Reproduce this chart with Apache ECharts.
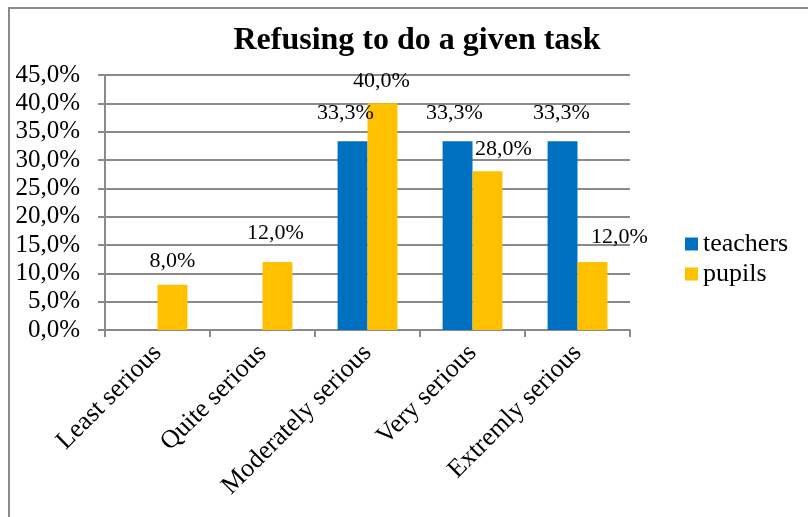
<!DOCTYPE html>
<html>
<head>
<meta charset="utf-8">
<script src="https://cdn.jsdelivr.net/npm/echarts@6/dist/echarts.min.js"></script>
<style>
html,body{margin:0;padding:0;background:#fff;}
#chart{width:808px;height:517px;}
</style>
</head>
<body>
<div id="chart"></div>
<script>
const titleText = 'Refusing to do a given task';
const categories = ['Least serious', 'Quite serious', 'Moderately serious', 'Very serious', 'Extremly serious'];
const seriesNames = ['teachers', 'pupils'];
const teachers = [0, 0, 33.3, 33.3, 33.3];
const pupils = [8.0, 12.0, 40.0, 28.0, 12.0];
const yTicks = [0, 5, 10, 15, 20, 25, 30, 35, 40, 45];

// label placement tweaks (layout only)
const teacherLabelOffsets = [[0,0],[0,0],[-7,-12],[-3,-12],[-1,-12]];
const pupilLabelOffsets = [[0,-7],[-2,-13],[-1,-6],[16,-6],[27,-9]];

const FONT = '"Liberation Serif", "Times New Roman", serif';
const fmt = v => v.toFixed(1).replace('.', ',') + '%';

const chart = echarts.init(document.getElementById('chart'), null, {renderer: 'canvas'});

function buildData(vals, offs) {
  return vals.map((v, i) => ({
    value: v,
    label: { offset: offs[i], show: v !== 0 }
  }));
}

const labelStyle = {
  show: true,
  position: 'top',
  distance: 5,
  fontFamily: FONT,
  fontSize: 22,
  color: '#000',
  formatter: p => fmt(p.value)
};

chart.setOption({
  animation: false,
  backgroundColor: '#fff',
  graphic: [{
    type: 'rect',
    shape: {x: 9, y: 8, width: 1000, height: 1000},
    style: {fill: 'none', stroke: '#8a8a8a', lineWidth: 2},
    silent: true
  }],
  title: {
    text: titleText,
    left: 412,
    textAlign: 'center',
    top: 20,
    textStyle: {fontFamily: FONT, fontSize: 32, fontWeight: 'bold', color: '#000'}
  },
  legend: {
    orient: 'vertical',
    left: 680,
    top: 226,
    itemWidth: 13,
    itemHeight: 13,
    itemGap: 4,
    icon: 'rect',
    data: seriesNames,
    textStyle: {fontFamily: FONT, fontSize: 26, color: '#000', padding: [0,0,0,0]}
  },
  grid: {left: 105, right: 178, top: 75, bottom: 187, containLabel: false},
  xAxis: {
    type: 'category',
    data: categories,
    axisLine: {lineStyle: {color: '#8a8a8a', width: 2}},
    axisTick: {show: true, length: 7, lineStyle: {color: '#8a8a8a', width: 2}},
    axisLabel: {rotate: 45, margin: 19, fontFamily: FONT, fontSize: 26, color: '#000', interval: 0}
  },
  yAxis: {
    type: 'value',
    min: yTicks[0],
    max: yTicks[yTicks.length - 1],
    interval: yTicks[1] - yTicks[0],
    axisLine: {show: true, lineStyle: {color: '#8a8a8a', width: 2}},
    axisTick: {show: true, length: 7, lineStyle: {color: '#8a8a8a', width: 2}},
    splitLine: {show: true, lineStyle: {color: '#8a8a8a', width: 2}},
    axisLabel: {margin: 25, fontFamily: FONT, fontSize: 25, color: '#000', formatter: v => fmt(v)}
  },
  series: [
    {
      name: seriesNames[0],
      type: 'bar',
      data: buildData(teachers, teacherLabelOffsets),
      itemStyle: {color: '#0070C0'},
      barGap: '0%',
      barCategoryGap: '43%',
      label: labelStyle
    },
    {
      name: seriesNames[1],
      type: 'bar',
      data: buildData(pupils, pupilLabelOffsets),
      itemStyle: {color: '#FFC000'},
      barGap: '0%',
      barCategoryGap: '43%',
      label: labelStyle
    }
  ]
});
</script>
</body>
</html>
